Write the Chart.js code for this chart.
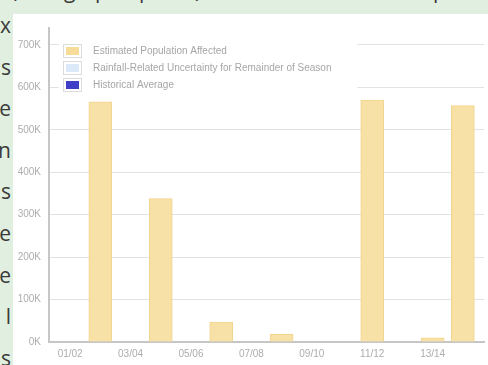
<!DOCTYPE html>
<html>
<head>
<meta charset="utf-8">
<script src="https://cdn.jsdelivr.net/npm/chart.js@4"></script>
<style>
  html, body { margin: 0; padding: 0; }
  body { width: 488px; height: 365px; background: #e0efdf; position: relative; overflow: hidden;
         font-family: "Open Sans", sans-serif; color: #3a3a3a; }
  .frag { position: absolute; font-size: 21px; line-height: 1; }
  .edge { position: absolute; right: 477px; font-size: 21px; line-height: 1; }
  #panel { position: absolute; left: 13px; top: 14px; width: 475px; height: 351px; background: #fff; }
</style>
</head>
<body>
<!-- page text around the chart, cut off by the crop -->
<span class="frag" style="left:11px; top:-20px">(</span>
<span class="frag" style="left:64px; top:-20px">g</span>
<span class="frag" style="left:95px; top:-20px">p</span>
<span class="frag" style="left:139px; top:-20px">p</span>
<span class="frag" style="left:195px; top:-20px">)</span>
<span class="frag" style="left:433px; top:-20px">p</span>
<div id="edge"></div>

<div id="panel"><canvas id="chart" width="475" height="351"></canvas></div>

<script>
// Data
const seasons = ['01/02', '02/03', '03/04', '04/05', '05/06', '06/07', '07/08',
                 '08/09', '09/10', '10/11', '11/12', '12/13', '13/14', '14/15'];
const affected = [null, 566000, null, 338000, null, 47000, null,
                  18000, null, null, 570000, null, 10000, 557000];
const uncertainty = [];
const historical = [];
const tickLabels = ['01/02', '03/04', '05/06', '07/08', '09/10', '11/12', '13/14'];
const yTicks = [0, 100000, 200000, 300000, 400000, 500000, 600000, 700000];
const edgeLetters = ['x', 's', 'e', 'n', 's', 'e', 'e', 'l', 's'];

// cut-off line endings on the left
const edge = document.getElementById('edge');
edgeLetters.forEach((ch, i) => {
  const s = document.createElement('span');
  s.className = 'edge';
  s.style.top = (15 + i * 41.6) + 'px';
  s.textContent = ch;
  edge.appendChild(s);
});

const FONT = { family: '"Liberation Sans", Arial, sans-serif', size: 10 };
const TEXT = '#adadad';

// Legend drawn inside the plot, on a white box over the grid
const insideLegend = {
  id: 'insideLegend',
  beforeDatasetsDraw(chart) {
    const ctx = chart.ctx;
    ctx.save();
    ctx.fillStyle = '#fff';
    ctx.fillRect(46, 22, 298, 60);
    ctx.font = '10px "Liberation Sans", Arial, sans-serif';
    ctx.textBaseline = 'middle';
    chart.data.datasets.forEach((ds, i) => {
      const y = 30 + i * 17;
      ctx.fillStyle = '#fff';
      ctx.strokeStyle = '#dcdcdc';
      ctx.lineWidth = 1;
      ctx.strokeRect(50.5, y + 0.5, 18, 13);
      ctx.fillStyle = ds.legendColor;
      ctx.fillRect(53, y + 3, 13, 8);
      ctx.fillStyle = '#a6a6a6';
      ctx.fillText(ds.label, 80, y + 7.5);
    });
    ctx.restore();
  }
};

new Chart(document.getElementById('chart'), {
  type: 'bar',
  data: {
    datasets: [
      {
        label: 'Estimated Population Affected',
        data: seasons.map((s, i) => ({ x: i, y: affected[i] })).filter(d => d.y !== null),
        backgroundColor: '#f8e1a6',
        borderColor: '#f1d48d',
        borderWidth: 1,
        legendColor: '#f6dc98'
      },
      {
        label: 'Rainfall-Related Uncertainty for Remainder of Season',
        data: uncertainty,
        backgroundColor: '#dbe9f8',
        legendColor: '#dbe9f8'
      },
      {
        label: 'Historical Average',
        data: historical,
        backgroundColor: '#3f3fc8',
        legendColor: '#3f3fc8'
      }
    ]
  },
  options: {
    responsive: false,
    animation: false,
    grouped: false,
    barThickness: 23,
    layout: { padding: { top: 13, right: 4, left: 0, bottom: 0 } },
    plugins: {
      legend: { display: false },
      tooltip: { enabled: false }
    },
    scales: {
      x: {
        type: 'linear',
        offset: false,
        min: -0.7,
        max: 13.7,
        grid: { display: false, drawTicks: false },
        border: { display: true, color: '#c6c6c6', width: 2 },
        afterBuildTicks: scale => {
          scale.ticks = tickLabels.map(l => ({ value: seasons.indexOf(l) }));
        },
        afterFit: scale => { scale.height = 23; },
        ticks: {
          autoSkip: false,
          maxRotation: 0,
          padding: 6,
          color: TEXT,
          font: FONT,
          callback: v => seasons[v]
        }
      },
      y: {
        min: 0,
        max: 740000,
        grid: { color: '#e3e3e3', drawTicks: false },
        border: { display: true, color: '#c6c6c6', width: 2 },
        afterBuildTicks: scale => {
          scale.ticks = yTicks.map(v => ({ value: v }));
        },
        afterFit: scale => { scale.width = 36; },
        ticks: {
          padding: 8,
          color: TEXT,
          font: FONT,
          callback: v => (v / 1000) + 'K'
        }
      }
    }
  },
  plugins: [insideLegend]
});
</script>
</body>
</html>
